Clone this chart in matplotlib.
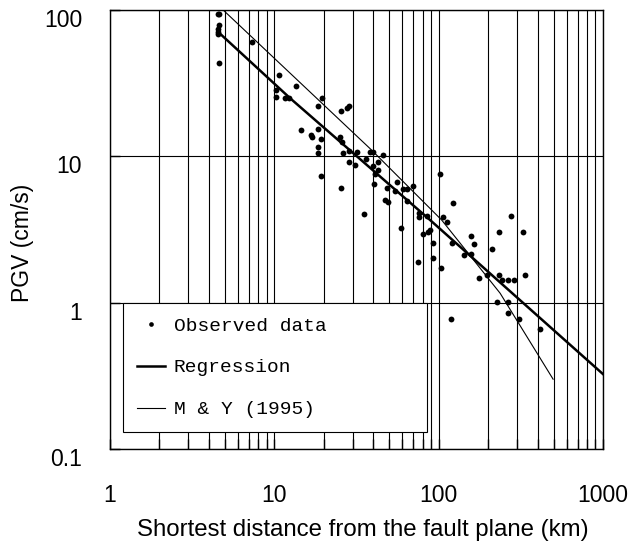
import matplotlib
matplotlib.use("Agg")
import matplotlib.pyplot as plt
from matplotlib.transforms import ScaledTranslation
from matplotlib.ticker import LogLocator, NullFormatter, FixedLocator

# ---- data ----
obs_dist = [4.52, 4.63, 4.63, 4.57, 4.52, 4.57, 4.60,
            7.35, 10.7, 10.2, 10.3, 11.6, 12.2,
            13.6, 19.4, 18.5, 28.5, 27.6, 25.6, 14.5, 18.5, 16.7, 16.9, 19.1,
            25.0, 25.9, 18.5, 18.5, 26.2, 28.5, 28.5, 19.1, 25.6,
            32.0, 38.3, 39.7, 31.0, 36.0, 46.1, 43.0, 40.1, 43.0, 41.0, 40.6,
            35.3, 56.1, 48.3, 54.3, 61.0, 64.5, 69.5, 47.2, 49.4, 64.5, 102,
            123, 58.7, 76.3, 76.3, 84.7, 107, 112, 80.7, 86.6, 88.7, 92.9,
            92.0, 103, 75.2, 121, 157, 165, 142, 157, 233, 211, 175, 198, 233,
            226, 324, 242, 266, 289, 337, 263, 263, 308, 416, 119, 276]
obs_pgv = [94, 94, 78.9, 73.8, 70.5, 68.2, 43.6,
           60.7, 35.9, 28.4, 25.3, 25.2, 25.2,
           30.4, 25.2, 22.2, 22.2, 21.5, 20.4, 15.1, 15.4, 14.0, 13.5, 13.1,
           13.6, 12.5, 11.6, 10.5, 10.5, 10.9, 9.18, 7.33, 6.1,
           10.7, 10.7, 10.7, 8.73, 9.53, 10.2, 9.1, 8.63, 8.06, 7.57, 6.44,
           4.06, 6.64, 6.04, 5.82, 5.97, 5.97, 6.29, 5.02, 4.90, 4.97, 7.57,
           4.78, 3.22, 4.07, 3.87, 3.93, 3.83, 3.57, 2.93, 3.05, 3.13, 2.54,
           2.03, 1.72, 1.90, 2.54, 2.85, 2.53, 2.12, 2.14, 3.04, 2.31, 1.47, 1.54, 1.55,
           1.01, 3.03, 1.42, 1.42, 1.42, 1.55, 1.01, 0.853, 0.776, 0.66, 0.776, 3.91]

reg_dist = [4.62, 12.5, 88.7, 1000]
reg_pgv = [69.7, 24.9, 3.67, 0.325]

my_dist = [4.54, 39.2, 104.3, 236.6, 497]
my_pgv = [108, 11.0, 3.67, 1.16, 0.30]

x_ticks = [1, 10, 100, 1000]
x_labels = ["1", "10", "100", "1000"]
y_ticks = [0.1, 1, 10, 100]
y_labels = ["0.1", "1", "10", "100"]

# ---- figure ----
fig = plt.figure(figsize=(6.28, 5.51), dpi=100)
ax = fig.add_axes([110/628, 1-449/551, 493/628, 439/551])
ax.set_xscale("log")
ax.set_yscale("log")
ax.set_xlim(1, 1000)
ax.set_ylim(0.1, 100)

sans = ["Liberation Sans", "DejaVu Sans"]
mono = ["Liberation Mono", "DejaVu Sans Mono"]

ax.xaxis.set_major_locator(FixedLocator(x_ticks))
ax.xaxis.set_minor_locator(LogLocator(base=10, subs=range(2, 10), numticks=20))
ax.xaxis.set_minor_formatter(NullFormatter())
ax.yaxis.set_major_locator(FixedLocator(y_ticks))
ax.yaxis.set_minor_locator(FixedLocator([]))
ax.grid(True, which="both", axis="x", color="black", lw=0.8)
ax.grid(True, which="major", axis="y", color="black", lw=0.8)
ax.set_axisbelow(True)

ax.set_xticklabels(x_labels, fontsize=16.5, family=sans)
ax.set_yticklabels(y_labels, fontsize=16.5, family=sans)
ax.tick_params(axis="both", which="both", direction="in", length=7, width=1)
ax.tick_params(axis="x", which="both", pad=25)
ax.tick_params(axis="y", which="both", pad=20)
for lab in ax.get_yticklabels():
    lab.set_transform(lab.get_transform() + ScaledTranslation(0, -8/100, fig.dpi_scale_trans))

for s in ax.spines.values():
    s.set_color("black")
    s.set_linewidth(1.0)

ax.plot(obs_dist, obs_pgv, "o", color="black", ms=4.2, mew=0,
        label="Observed data", zorder=3)
ax.plot(reg_dist, reg_pgv, "-", color="black", lw=1.8, label="Regression", zorder=3)
ax.plot(my_dist, my_pgv, "-", color="black", lw=0.8, label="M & Y (1995)", zorder=3)

leg = ax.legend(loc="lower left", bbox_to_anchor=(13/493, 17/439, 304/493, 125/439),
                mode="expand", borderaxespad=0, prop={"family": mono, "size": 14},
                frameon=True, fancybox=False, framealpha=1, edgecolor="black",
                handlelength=1.45, handletextpad=0.45, labelspacing=1.25,
                borderpad=0.7, markerscale=0.8, numpoints=1)
leg.get_frame().set_linewidth(0.8)

fig.text(23/628, 1-243/551, "PGV (cm/s)", rotation=90, ha="center", va="center",
         fontsize=16.5, family=sans)
fig.text(363/628, 1-530/551, "Shortest distance from the fault plane (km)",
         ha="center", va="center", fontsize=17.3, family=sans)

fig.savefig("out.png", dpi=100)
